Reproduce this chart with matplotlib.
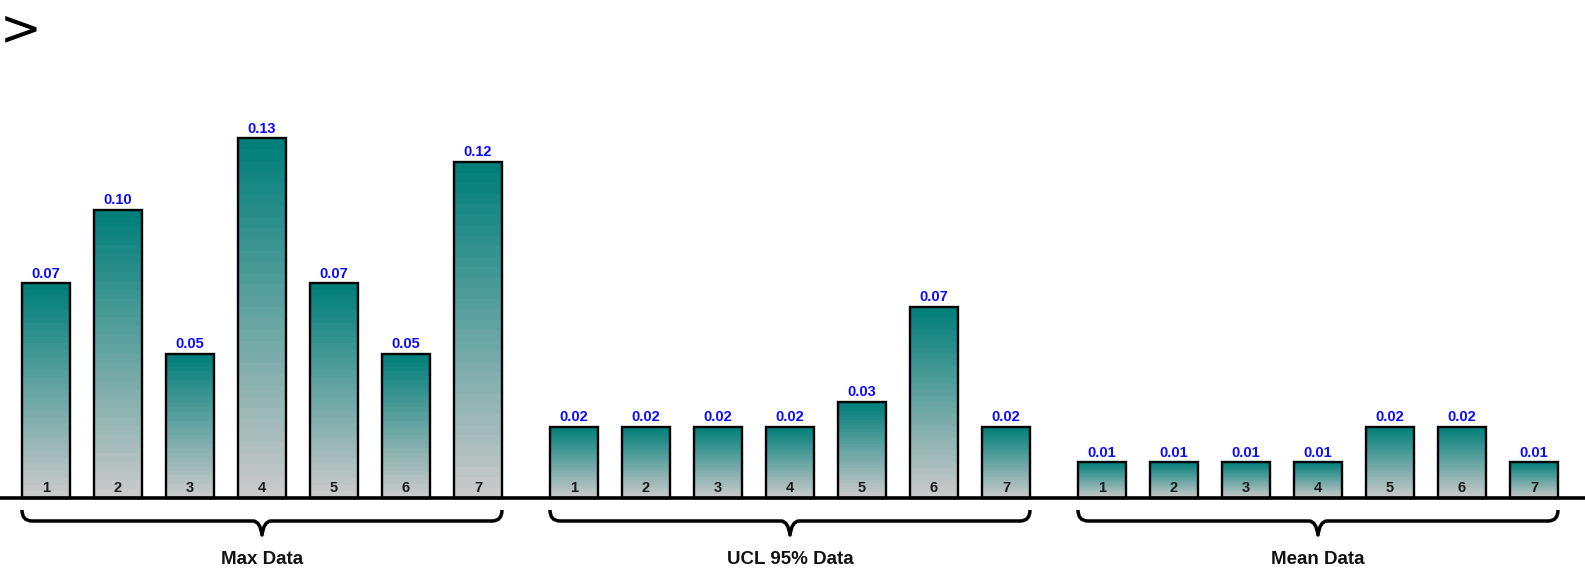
import matplotlib
matplotlib.use('Agg')
import matplotlib.pyplot as plt
import numpy as np
from matplotlib.colors import LinearSegmentedColormap
from matplotlib.patches import Rectangle, PathPatch
from matplotlib.path import Path

plt.rcParams['font.family'] = ['Liberation Sans', 'DejaVu Sans']

groups = ['Max Data', 'UCL 95% Data', 'Mean Data']
bar_names = ['1', '2', '3', '4', '5', '6', '7']
max_data = [0.0749, 0.1005, 0.0503, 0.1255, 0.0749, 0.0503, 0.1172]
ucl_data = [0.0249, 0.0249, 0.0249, 0.0249, 0.0334, 0.0668, 0.0249]
mean_data = [0.0124, 0.0124, 0.0124, 0.0124, 0.0249, 0.0249, 0.0124]
series = [max_data, ucl_data, mean_data]

W, H = 1585, 572
fig = plt.figure(figsize=(W / 100, H / 100), dpi=100)
ax = fig.add_axes([0, 0, 1, 1])
ax.axis('off')

# pixel <-> data scale
px_per_unit = 2866.0
base_px = 498
pitch_px = 72.0
x0_px = 46
ylo = -(H - base_px) / px_per_unit
yhi = base_px / px_per_unit
ax.set_xlim(-x0_px / pitch_px, (W - x0_px) / pitch_px)
ax.set_ylim(ylo, yhi)

def py(p):
    # pixel row -> data y
    return (base_px - p) / px_per_unit

def pxw(p):
    return p / pitch_px

cmap = LinearSegmentedColormap.from_list('tealgray', ['#cacaca', '#007f7a'], N=32)
grad = np.linspace(0, 1, 32).reshape(-1, 1)

bw = 0.667
gap = 7 + 1 / 3

for g, (name, vals) in enumerate(zip(groups, series)):
    xs = g * gap + np.arange(len(vals))
    for x, v, lab in zip(xs, vals, bar_names):
        ax.imshow(grad, cmap=cmap, origin='lower', aspect='auto',
                  interpolation='nearest',
                  extent=(x - bw / 2, x + bw / 2, 0, v), zorder=2)
        ax.add_patch(Rectangle((x - bw / 2, 0), bw, v, fill=False,
                               edgecolor='black', linewidth=1.7, zorder=3))
        ax.annotate(f'{v:.2f}', (x, v), xytext=(0, 2), textcoords='offset points',
                    ha='center', va='bottom', color='#0a0aff', fontsize=10.5,
                    fontweight='bold', zorder=4)
        ax.text(x, py(495), lab, ha='center', va='bottom', fontsize=10.5,
                fontweight='bold', color='#1a1a1a', zorder=4)

    # curly brace under the group
    L = xs[0] - bw / 2
    R = xs[-1] + bw / 2
    C = (L + R) / 2
    r = pxw(10)
    top, mid, tip = py(510), py(521), py(535)
    verts = [(L, top), (L, mid), (L + r, mid),
             (C - pxw(9), mid),
             (C - pxw(2), mid), (C, tip),
             (C + pxw(2), mid), (C + pxw(9), mid),
             (R - r, mid),
             (R, mid), (R, top)]
    codes = [Path.MOVETO, Path.CURVE3, Path.CURVE3,
             Path.LINETO,
             Path.CURVE3, Path.CURVE3,
             Path.CURVE3, Path.CURVE3,
             Path.LINETO,
             Path.CURVE3, Path.CURVE3]
    ax.add_patch(PathPatch(Path(verts, codes), fill=False, edgecolor='black',
                           linewidth=2.5, capstyle='butt', joinstyle='round'))
    ax.text(C, py(560), name, ha='center', va='center', fontsize=13.5,
            fontweight='bold', color='#111111')

ax.axhline(0, color='black', linewidth=2.6, zorder=5)

fig.text(0, 1 - 30 / H, '>', fontsize=36, va='center', ha='left',
         family='DejaVu Sans')

fig.savefig('out.png', dpi=100)
